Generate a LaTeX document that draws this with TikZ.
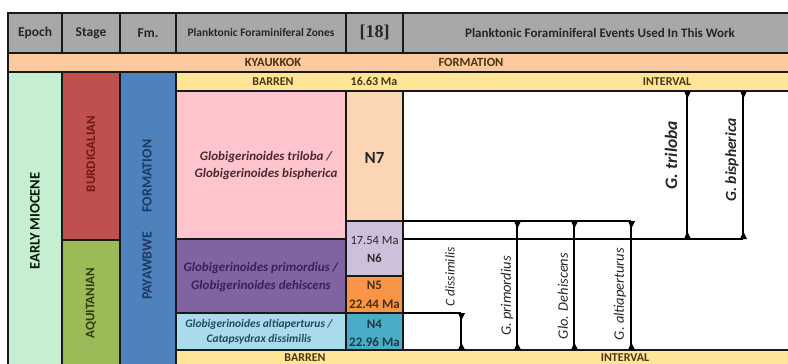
\documentclass[tikz,border=0pt]{standalone}
\usepackage{fontspec}
\setmainfont{Carlito}
\newfontfamily\timesf{Liberation Serif}
\usetikzlibrary{arrows.meta}
\definecolor{hdrgray}{HTML}{A8A8A8}
\definecolor{kyau}{HTML}{FAC99C}
\definecolor{barren}{HTML}{FFE597}
\definecolor{epochc}{HTML}{C6EED0}
\definecolor{burd}{HTML}{C0504D}
\definecolor{aqui}{HTML}{9BBB59}
\definecolor{fmblue}{HTML}{4F81BD}
\definecolor{pinkz}{HTML}{FFC4CC}
\definecolor{nseven}{HTML}{FCD5B4}
\definecolor{nsix}{HTML}{CCC0DA}
\definecolor{purp}{HTML}{8064A2}
\definecolor{nfive}{HTML}{F79646}
\definecolor{ltblue}{HTML}{A9DCEA}
\definecolor{nfour}{HTML}{4BACC6}
\definecolor{txtdark}{HTML}{262626}
\definecolor{browntxt}{HTML}{4A3515}
\definecolor{burdtxt}{HTML}{6B1A1A}
\definecolor{aquitxt}{HTML}{2C3C10}
\definecolor{fmtxt}{HTML}{1F3864}
\definecolor{pinktxt}{HTML}{4A2A30}
\definecolor{purptxt}{HTML}{3A1F5E}
\definecolor{bluetxt}{HTML}{1F4A5A}
\begin{document}
\begin{tikzpicture}[x=1pt,y=-1pt,
  cell/.style={draw=black!90,line width=1.3pt},
  hdr/.style={font=\bfseries\fontsize{13.5}{15}\selectfont,text=txtdark},
  bar/.style={font=\bfseries\fontsize{12}{14}\selectfont,text=browntxt},
  vlab/.style={rotate=90,font=\bfseries\fontsize{13}{15}\selectfont},
  zone/.style={font=\bfseries\itshape\fontsize{13}{17}\selectfont,align=center},
  ncell/.style={font=\bfseries\fontsize{13}{18.5}\selectfont,align=center},
  evline/.style={line width=1.1pt},
  evlab/.style={rotate=90,font=\itshape\fontsize{14.5}{16}\selectfont,text=txtdark},
  evbig/.style={rotate=90,font=\bfseries\itshape\fontsize{17.5}{19}\selectfont,text=txtdark}]
\clip (0,0) rectangle (788,364);
\fill[white] (0,0) rectangle (788,364);
% header
\path[cell,fill=hdrgray] (8,13) rectangle (62,53);
\path[cell,fill=hdrgray] (62,13) rectangle (120,53);
\path[cell,fill=hdrgray] (120,13) rectangle (176,53);
\path[cell,fill=hdrgray] (176,13) rectangle (346,53);
\path[cell,fill=hdrgray] (346,13) rectangle (403,53);
\path[cell,fill=hdrgray] (403,13) rectangle (792,53);
\node[hdr] (hEpoch) at (35,33) {Epoch};
\node[hdr] (hStage) at (91,33) {Stage};
\node[hdr] (hFm) at (148,33) {Fm.};
\node[hdr,font=\bfseries\fontsize{11.5}{13}\selectfont] (hZones) at (261,33) {Planktonic Foraminiferal Zones};
\node[text=txtdark,font=\timesf\bfseries\fontsize{18}{20}\selectfont] (hRef) at (374.5,32) {[18]};
\node[hdr,font=\bfseries\fontsize{13}{15}\selectfont] (hEvents) at (600,33) {Planktonic Foraminiferal Events Used In This Work};
% Kyaukkok formation row
\path[cell,fill=kyau] (8,53) rectangle (792,72);
\node[bar,font=\bfseries\fontsize{12.5}{14}\selectfont] (kyk) at (273,62.5) {KYAUKKOK};
\node[bar,font=\bfseries\fontsize{12.5}{14}\selectfont] (kykf) at (471,62.5) {FORMATION};
% left columns
\path[cell,fill=epochc] (8,72) rectangle (62,370);
\path[cell,fill=burd] (62,72) rectangle (120,240);
\path[cell,fill=aqui] (62,240) rectangle (120,370);
\path[cell,fill=fmblue] (120,72) rectangle (176,370);
\node[vlab,font=\bfseries\fontsize{14.5}{16}\selectfont,text=txtdark!80!green!30!black] (early) at (35,221) {EARLY MIOCENE};
\node[vlab,text=burdtxt] (burdl) at (91,154) {BURDIGALIAN};
\node[vlab,text=aquitxt] (aquil) at (91,303) {AQUITANIAN};
\node[vlab,font=\bfseries\fontsize{14}{16}\selectfont,text=fmtxt] (fmA) at (147,176) {FORMATION};
\node[vlab,font=\bfseries\fontsize{14}{16}\selectfont,text=fmtxt] (fmB) at (147,266) {PAYAWBWE};
% barren top row
\path[cell,fill=barren] (176,72) rectangle (792,91);
\node[bar] (barren1) at (273,81.5) {BARREN};
\node[bar] (age1663) at (374,81.5) {16.63 Ma};
\node[bar] (interval1) at (667,81.5) {INTERVAL};
% zones
\path[cell,fill=pinkz] (176,91) rectangle (346,239);
\path[cell,fill=purp] (176,239) rectangle (346,313);
\path[cell,fill=ltblue] (176,313) rectangle (346,350);
\node[zone,text=pinktxt] (ztri) at (266,166) {Globigerinoides triloba /\\Globigerinoides bispherica};
\node[zone,font=\bfseries\itshape\fontsize{13}{18}\selectfont,text=purptxt] (zpri) at (261,277) {Globigerinoides primordius /\\Globigerinoides dehiscens};
\node[zone,text=bluetxt,font=\bfseries\itshape\fontsize{11.5}{15}\selectfont] (zalt) at (259,332) {Globigerinoides altiaperturus /\\Catapsydrax dissimilis};
% N zones
\path[cell,fill=nseven] (346,91) rectangle (403,221);
\path[cell,fill=nsix] (346,221) rectangle (403,276);
\path[cell,fill=nfive] (346,276) rectangle (403,313);
\path[cell,fill=nfour] (346,313) rectangle (403,350);
\node[font=\bfseries\fontsize{17}{19}\selectfont,text=txtdark] (n7) at (374.5,158) {N7};
\node[ncell,font=\fontsize{12.5}{18}\selectfont,text=txtdark!60!nsix!40!black] (n6) at (374.5,249.5) {17.54 Ma\\\textbf{N6}};
\node[ncell,text=black!70!nfive] (n5) at (374.5,295) {N5\\22.44 Ma};
\node[ncell,font=\bfseries\fontsize{13}{18}\selectfont,text=bluetxt!80!black] (n4) at (374.5,333) {N4\\22.96 Ma};
% bottom barren row
\path[cell,fill=barren] (176,350) rectangle (792,372);
\node[bar] (barren2) at (305,358) {BARREN};
\node[bar] (interval2) at (625,358) {INTERVAL};
% events area border
\draw[line width=1.3pt,black!90] (403,91) -- (403,350);
% event coordinates
\coordinate (h1a) at (403,221); \coordinate (h1b) at (631,221);
\coordinate (h2a) at (403,239); \coordinate (h2b) at (743,239);
\coordinate (h3a) at (403,313); \coordinate (h3b) at (461,313);
\coordinate (cdT) at (461,313); \coordinate (cdB) at (461,350);
\coordinate (gpT) at (517,221); \coordinate (gpB) at (517,350);
\coordinate (gdT) at (574,221); \coordinate (gdB) at (574,350);
\coordinate (gaT) at (631,221); \coordinate (gaB) at (631,350);
\coordinate (gtT) at (687,91); \coordinate (gtB) at (687,239);
\coordinate (gbT) at (743,91); \coordinate (gbB) at (743,239);
\draw[line width=1.1pt] (h1a) -- (h1b);
\draw[line width=1.1pt] (h2a) -- (h2b);
\draw[line width=1.1pt] (h3a) -- (h3b);
\foreach \e in {cd,gp,gd,ga,gt,gb}{
  \draw[evline] (\e T) -- (\e B);
  \fill[black] ([xshift=-3pt]\e T) -- ([xshift=4pt]\e T) -- ([xshift=0.3pt,yshift=-7.5pt]\e T) -- cycle;
  \fill[black] ([xshift=-3pt]\e B) -- ([xshift=4pt]\e B) -- ([xshift=0.3pt,yshift=7.5pt]\e B) -- cycle;
}
\node[evlab,font=\itshape\fontsize{13.5}{15}\selectfont] (lcd) at (450,277) {C dissimilis};
\node[evlab] (lgp) at (507,296) {G. primordius};
\node[evlab] (lgd) at (563,296) {Glo. Dehiscens};
\node[evlab] (lga) at (620,294) {G. altiaperturus};
\node[evbig] (lgt) at (671,155) {G. triloba};
\node[evbig,font=\bfseries\itshape\fontsize{15.5}{17}\selectfont] (lgb) at (732,160) {G. bispherica};
\end{tikzpicture}
\end{document}
